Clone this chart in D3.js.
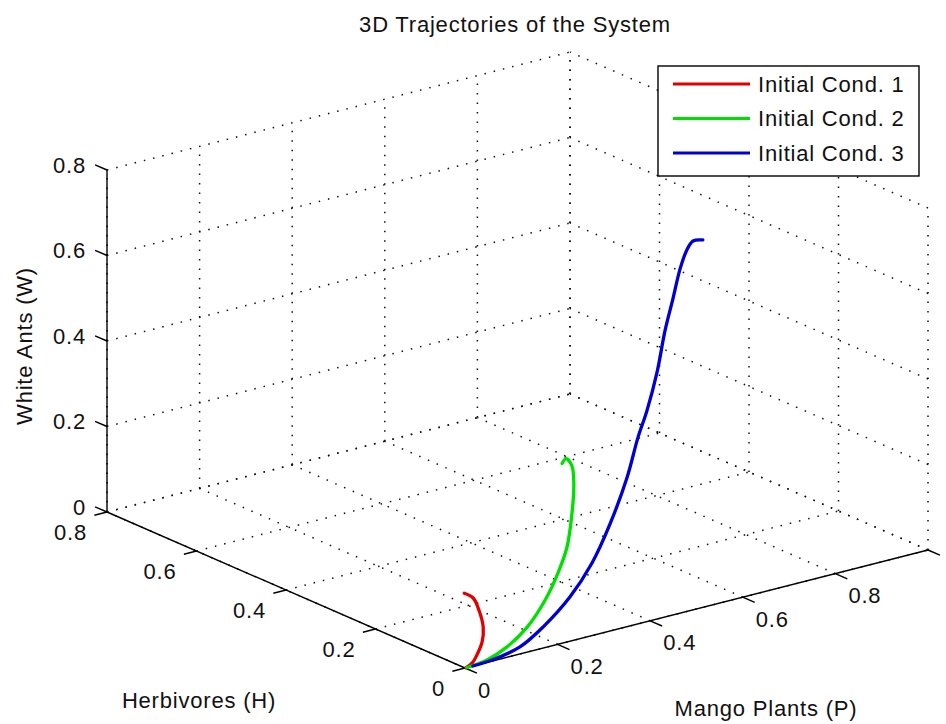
<!DOCTYPE html>
<html>
<head>
<meta charset="utf-8">
<script src="https://cdn.jsdelivr.net/npm/d3@7"></script>
<style>
body { margin: 0; background: #fff; }
svg text { font-family: "Liberation Sans", Arial, sans-serif; font-size: 22px; letter-spacing: 0.8px; fill: #111; }
</style>
</head>
<body>
<div id="graphicContainer"></div>
<script>
// ticks
var pTicks = [0, 0.2, 0.4, 0.6, 0.8, 1]
var pTickLabels = ["0", "0.2", "0.4", "0.6", "0.8", ""]
var hTicks = [0, 0.2, 0.4, 0.6, 0.8]
var wTicks = [0, 0.2, 0.4, 0.6, 0.8]

var seriesNames = ["Initial Cond. 1", "Initial Cond. 2", "Initial Cond. 3"]
var seriesColours = ["#e00000", "#00e000", "#0000d0"]

// Initial Cond. 1 (P, H, W)
var p1 = [0.095, 0.095, 0.088, 0.078, 0.061, 0.040, 0.022, 0.002]
var h1 = [0.100, 0.080, 0.060, 0.040, 0.025, 0.015, 0.007, 0]
var w1 = [0.103, 0.101, 0.084, 0.056, 0.032, 0.012, 0.002, 0]

// Initial Cond. 2
var p2 = [0.403, 0.402, 0.395, 0.380, 0.347, 0.312, 0.273, 0.226, 0.171, 0.114, 0.055, 0.004]
var h2 = [0.200, 0.190, 0.170, 0.150, 0.120, 0.095, 0.075, 0.055, 0.038, 0.024, 0.008, 0]
var w2 = [0.276, 0.292, 0.287, 0.258, 0.211, 0.153, 0.112, 0.071, 0.031, 0.007, 0, 0]

// Initial Cond. 3
var p3 = [0.707, 0.681, 0.658, 0.629, 0.599, 0.567, 0.536, 0.499, 0.470, 0.437, 0.386, 0.332, 0.270, 0.198, 0.138, 0.065, 0.017]
var h3 = [0.200, 0.195, 0.185, 0.170, 0.155, 0.140, 0.125, 0.110, 0.100, 0.090, 0.075, 0.060, 0.045, 0.030, 0.020, 0.004, 0]
var w3 = [0.715, 0.722, 0.712, 0.683, 0.628, 0.567, 0.489, 0.413, 0.363, 0.284, 0.197, 0.126, 0.071, 0.028, 0.002, 0, 0]

var target = "#graphicContainer"
var width = 946, height = 724

var svg = d3.select(target).append("svg")
    .attr("width", width)
    .attr("height", height)

// box corner projection (front-bottom corner and the three edge vectors on screen)
var origin = [465, 668]
var pVec = [463, -118], hVec = [-358, -156], wVec = [0, -342]

var sP = d3.scaleLinear().domain([0, 1]).range([0, 1])
var sH = d3.scaleLinear().domain([0, 0.8]).range([0, 1])
var sW = d3.scaleLinear().domain([0, 0.8]).range([0, 1])

function proj(p, h, w) {
    var a = sP(p), b = sH(h), c = sW(w)
    return [origin[0] + a * pVec[0] + b * hVec[0] + c * wVec[0],
            origin[1] + a * pVec[1] + b * hVec[1] + c * wVec[1]]
}

var pMax = sP.domain()[1], hMax = sH.domain()[1], wMax = sW.domain()[1]

var grid = svg.append("g")
function dotted(a, b) {
    var s = proj.apply(null, a), e = proj.apply(null, b)
    grid.append("line")
        .attr("x1", s[0]).attr("y1", s[1])
        .attr("x2", e[0]).attr("y2", e[1])
        .attr("stroke", "#111")
        .attr("stroke-width", 1.5)
        .attr("stroke-dasharray", "1.5,8")
}

// floor
pTicks.forEach(p => dotted([p, 0, 0], [p, hMax, 0]))
hTicks.forEach(h => dotted([0, h, 0], [pMax, h, 0]))
// back wall H = max
pTicks.forEach(p => dotted([p, hMax, 0], [p, hMax, wMax]))
wTicks.forEach(w => dotted([0, hMax, w], [pMax, hMax, w]))
// side wall P = max
hTicks.forEach(h => dotted([pMax, h, 0], [pMax, h, wMax]))
wTicks.forEach(w => dotted([pMax, 0, w], [pMax, hMax, w]))

// axes
var axes = svg.append("g").attr("stroke", "#000").attr("stroke-width", 1.4)
function solid(s, e) {
    axes.append("line")
        .attr("x1", s[0]).attr("y1", s[1])
        .attr("x2", e[0]).attr("y2", e[1])
}
function unit(v) { var l = Math.hypot(v[0], v[1]); return [v[0] / l, v[1] / l] }
var tickLen = 13
var uP = unit(pVec), uH = unit(hVec)

solid(proj(0, 0, 0), proj(pMax, 0, 0))
solid(proj(0, 0, 0), proj(0, hMax, 0))
solid(proj(0, hMax, 0), proj(0, hMax, wMax))

var labels = svg.append("g")

pTicks.forEach(function(p, i) {
    var a = proj(p, 0, 0)
    solid(a, [a[0] - uH[0] * tickLen, a[1] - uH[1] * tickLen])
    labels.append("text")
        .attr("x", a[0] + 13).attr("y", a[1] + 22)
        .attr("dominant-baseline", "central")
        .attr("text-anchor", "start")
        .text(pTickLabels[i])
})

hTicks.forEach(function(h) {
    var a = proj(0, h, 0)
    solid(a, [a[0] - uP[0] * tickLen, a[1] - uP[1] * tickLen])
    labels.append("text")
        .attr("x", a[0] - 20).attr("y", a[1] + 20)
        .attr("dominant-baseline", "central")
        .attr("text-anchor", "end")
        .text(d3.format("~g")(h))
})

wTicks.forEach(function(w) {
    var a = proj(0, hMax, w)
    solid(a, [a[0] + uH[0] * tickLen, a[1] + uH[1] * tickLen])
    labels.append("text")
        .attr("x", a[0] - 21).attr("y", a[1] - 5)
        .attr("dominant-baseline", "central")
        .attr("text-anchor", "end")
        .text(d3.format("~g")(w))
})

// trajectories
var series = [[p1, h1, w1], [p2, h2, w2], [p3, h3, w3]]
var line = d3.line().curve(d3.curveCatmullRom.alpha(0.5))

series.forEach(function(s, i) {
    var pts = s[0].map((p, j) => proj(p, s[1][j], s[2][j]))
    svg.append("path")
        .attr("d", line(pts))
        .attr("fill", "none")
        .attr("stroke", seriesColours[i])
        .attr("stroke-width", 3.3)
        .attr("stroke-linejoin", "round")
        .attr("stroke-linecap", "round")
})

// titles
svg.append("text")
    .attr("x", 515).attr("y", 24)
    .attr("text-anchor", "middle")
    .attr("dominant-baseline", "central")
    .text("3D Trajectories of the System")

svg.append("text")
    .attr("transform", "translate(24,346) rotate(-90)")
    .attr("text-anchor", "middle")
    .attr("dominant-baseline", "central")
    .text("White Ants (W)")

svg.append("text")
    .attr("x", 199).attr("y", 700)
    .attr("text-anchor", "middle")
    .attr("dominant-baseline", "central")
    .text("Herbivores (H)")

svg.append("text")
    .attr("x", 766).attr("y", 708)
    .attr("text-anchor", "middle")
    .attr("dominant-baseline", "central")
    .text("Mango Plants (P)")

// legend
var legend = svg.append("g").attr("transform", "translate(658,66)")
legend.append("rect")
    .attr("width", 261).attr("height", 110)
    .attr("fill", "#fff")
    .attr("stroke", "#000")
    .attr("stroke-width", 1.4)

seriesNames.forEach(function(name, i) {
    var y = 18 + i * 34.5
    legend.append("line")
        .attr("x1", 15).attr("x2", 92)
        .attr("y1", y).attr("y2", y)
        .attr("stroke", seriesColours[i])
        .attr("stroke-width", 3)
    legend.append("text")
        .attr("x", 100).attr("y", y)
        .attr("dominant-baseline", "central")
        .text(name)
})
</script>
</body>
</html>
